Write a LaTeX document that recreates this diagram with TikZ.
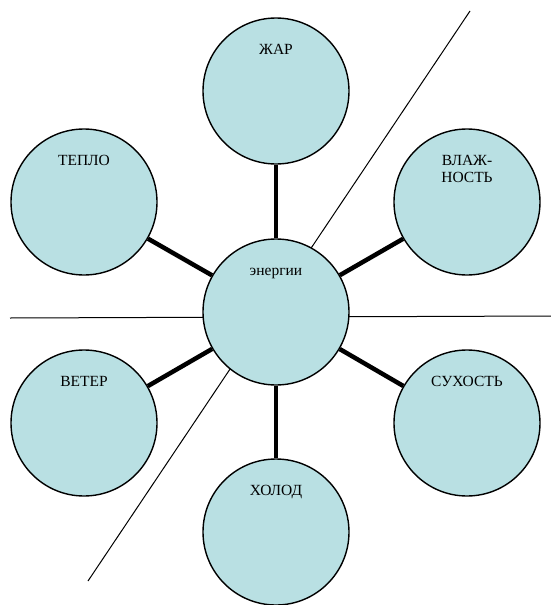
\documentclass[tikz,border=0pt]{standalone}
\usepackage{fontspec}
\setmainfont{Liberation Serif}
\usetikzlibrary{backgrounds}
\definecolor{ballblue}{RGB}{185,224,227}
\tikzset{
  ball/.style={circle, draw=black, line width=1.4pt, fill=ballblue, minimum size=146pt, inner sep=0pt},
  spoke/.style={line width=4.5pt},
  divider/.style={line width=1pt},
  word/.style={font=\rmfamily\fontsize{15.5}{17}\selectfont, anchor=base, yshift=-37pt, align=center}
}

\begin{document}
\begin{tikzpicture}[x=1pt, y=-1pt]
  \useasboundingbox (0,0) rectangle (551,605);
  \node[ball, label={[word]north:энергии}] (energy) at (276,312) {};
  \node[ball, label={[word]north:ЖАР}] (zhar) at (276,91) {};
  \node[ball, label={[word]north:ТЕПЛО}] (teplo) at (84,202) {};
  \node[ball, label={[word, yshift=-17pt]north:ВЛАЖ-\\НОСТЬ}] (vlazh) at (467,202) {};
  \node[ball, label={[word]north:ВЕТЕР}] (veter) at (84,423) {};
  \node[ball, label={[word]north:СУХОСТЬ}] (suhost) at (467,423) {};
  \node[ball, label={[word]north:ХОЛОД}] (holod) at (276,532) {};
  \begin{scope}[on background layer]
    \coordinate (hleft) at (10,318);
    \coordinate (hright) at (551,316);
    \coordinate (dtop) at (470,11);
    \coordinate (dbottom) at (88,581);
    \draw[divider] (hleft) -- (hright);
    \draw[divider] (dtop) -- (dbottom);
    \foreach \n in {zhar, teplo, vlazh, veter, suhost, holod}
      \draw[spoke] (energy) -- (\n);
  \end{scope}
\end{tikzpicture}
\end{document}
